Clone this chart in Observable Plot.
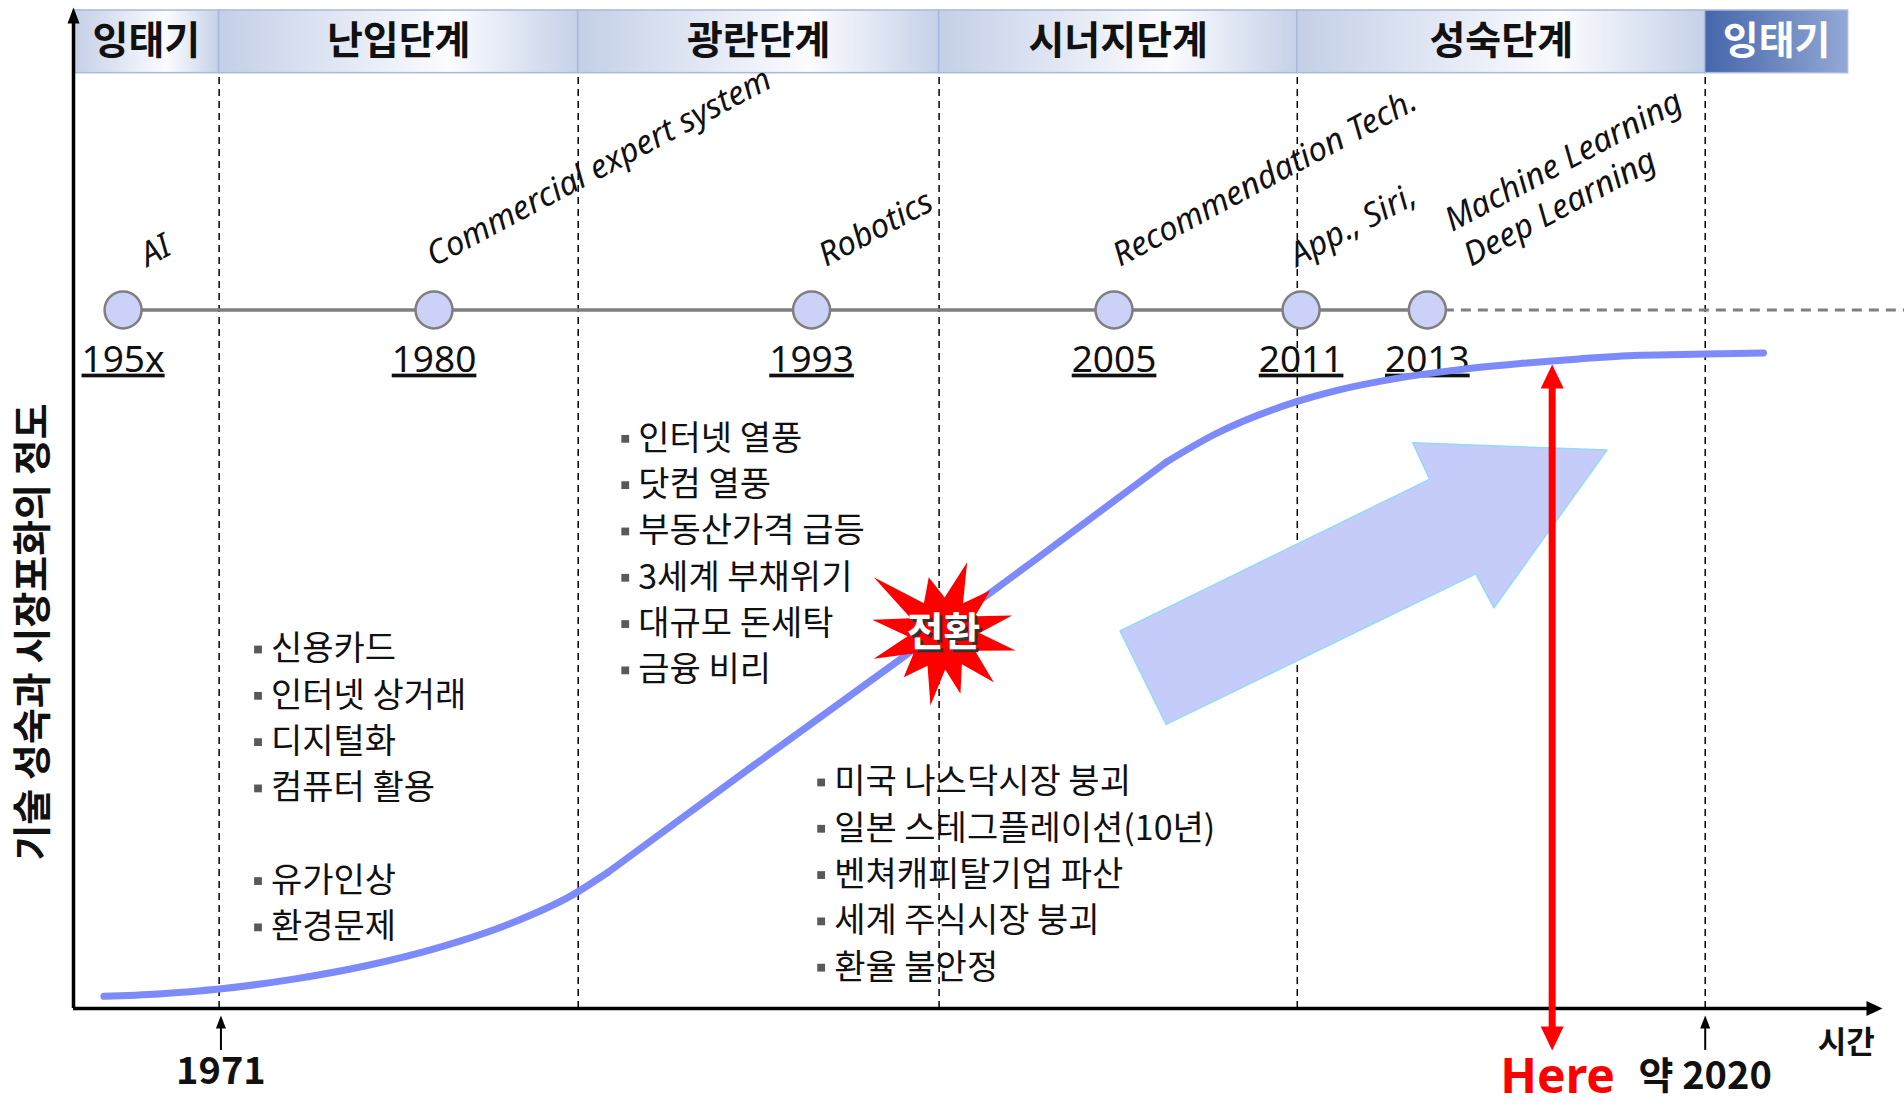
<!DOCTYPE html>
<html><head><meta charset="utf-8">
<script src="https://cdn.jsdelivr.net/npm/d3@7"></script>
<script src="https://cdn.jsdelivr.net/npm/@observablehq/plot@0.6"></script>
<style>html,body{margin:0;padding:0;background:#fff;overflow:hidden}</style>
</head><body><div id="chart"></div>
<script>
// ---------------- data (time axis 0–100, maturity axis 0–100) ----------------
const stageNames = ["잉태기", "난입단계", "광란단계", "시너지단계", "성숙단계", "잉태기"];
const stageStart = [0, 8.05, 27.9, 47.85, 67.65, 90.2];
const stageEnd   = [8.05, 27.9, 47.85, 67.65, 90.2, 98.1];

const milestoneYears = ["195x", "1980", "1993", "2005", "2011", "2013"];
const milestoneTime  = [2.74, 19.93, 40.8, 57.52, 67.86, 74.84];
const milestoneTech  = ["AI", "Commercial expert system", "Robotics", "Recommendation Tech.", "App., Siri,", "Machine Learning\nDeep Learning"];
const techStart      = [4.1, 19.93, 41.6, 57.85, 67.65, 77.25];

// maturity curve: lower bend, straight take-off, upper bend
const curveTime  = [1.68, 4.70, 8.05, 12.08, 16.11, 20.13, 24.16, 27.52, 29.53, 37.58, 45.64, 53.02, 60.40, 63.09, 67.65, 69.80, 73.15, 76.51, 79.87, 83.22, 86.58, 90.20, 93.42];
const curveLevel = [1.22, 1.46, 1.95, 2.92, 4.26, 6.08, 8.52, 11.31, 13.63, 24.33, 34.91, 44.77, 54.74, 57.54, 60.83, 61.92, 63.14, 63.99, 64.60, 65.09, 65.45, 65.57, 65.69];
const curvePhase = ["low","low","low","low","low","low","low","low","low","mid","mid","mid","high","high","high","high","high","high","high","high","high","high","high"];

const trendTime  = [57.85, 60.40, 77.52, 78.52, 84.77, 74.03, 74.97];
const trendLevel = [37.83, 28.47, 43.55, 40.15, 55.96, 56.69, 53.04];

const events1 = ["신용카드", "인터넷 상거래", "디지털화", "컴퓨터 활용", "", "유가인상", "환경문제"];
const events2 = ["인터넷 열풍", "닷컴 열풍", "부동산가격 급등", "3세계 부채위기", "대규모 돈세탁", "금융 비리"];
const events3 = ["미국 나스닥시장 붕괴", "일본 스테그플레이션(10년)", "벤쳐캐피탈기업 파산", "세계 주식시장 붕괴", "환율 불안정"];

const yLabel = "기술 성숙과 시장포화의 정도";
const xLabel = "시간";
const markerLabels = ["1971", "약 2020"];
const markerTime   = [8.15, 90.2];
const nowLabel = "Here";
const nowTime  = 81.74;
const nowLevel = 64.53;
const turnLabel = "전환";
const turnTime  = 48.09;
const turnLevel = 37.58;

// ---------------- layout ----------------
const TIMELINE = 70.0, HEAD_BOTTOM = 93.72, HEAD_TOP = 100;
const listAnchors = [[10.2, 35.97], [30.5, 57.08], [41.33, 22.65]];
const LIST_STEP = 4.64;

const stages = stageNames.map((name, i) => ({name, x1: stageStart[i], x2: stageEnd[i], i}));
const milestones = milestoneYears.map((year, i) => ({year, t: milestoneTime[i], tech: milestoneTech[i], ts: techStart[i]}));
const curve = curveTime.map((t, i) => ({t, v: curveLevel[i], p: curvePhase[i]}));
const seg = (phase, prev) => curve.filter((d, i) => d.p === phase || (prev && curve[i + 1] && curve[i + 1].p === phase));
const trend = trendTime.map((t, i) => ({t, v: trendLevel[i]}));
const events = [];
[events1, events2, events3].forEach((list, g) => list.forEach((text, k) => {
  if (text) events.push({text, t: listAnchors[g][0], v: listAnchors[g][1] - k * LIST_STEP});
}));

function head(w, h, dir) {
  return {draw(ctx) {
    let p;
    if (dir === "up") p = [[0, 0], [w / 2, h], [-w / 2, h]];
    else if (dir === "down") p = [[0, 0], [w / 2, -h], [-w / 2, -h]];
    else p = [[0, 0], [-h, w / 2], [-h, -w / 2]];
    ctx.moveTo(p[0][0], p[0][1]); ctx.lineTo(p[1][0], p[1][1]); ctx.lineTo(p[2][0], p[2][1]); ctx.closePath();
  }};
}
const starTips = [[23.7,-71.3],[46.7,-43],[68.7,-18],[72,17],[50.3,48.7],[17,60.3],[-13,72],[-39.7,43.7],[-69.7,25.3],[-71.3,-13.7],[-69.7,-56.3],[-14.7,-56.3]];
const star = {draw(ctx) {
  const n = starTips.length;
  starTips.forEach((p, i) => {
    const q = starTips[(i + 1) % n];
    const a1 = Math.atan2(p[1], p[0]); let a2 = Math.atan2(q[1], q[0]);
    if (a2 < a1) a2 += 2 * Math.PI;
    const am = (a1 + a2) / 2, ri = 36;
    if (i === 0) ctx.moveTo(p[0], p[1]); else ctx.lineTo(p[0], p[1]);
    ctx.lineTo(ri * Math.cos(am), ri * Math.sin(am));
  });
  ctx.closePath();
}};

const KR = "'Noto Sans CJK KR', 'Noto Sans', sans-serif";
const LAT = "'Noto Sans', 'Open Sans', sans-serif";
const CURVE = {x: "t", y: "v", stroke: "#7d8bfa", strokeWidth: 7, strokeLinecap: "round", strokeLinejoin: "round"};

const svg = Plot.plot({
  width: 1904, height: 1108, margin: 0,
  x: {domain: [0, 100], range: [73, 1882], axis: null},
  y: {domain: [0, 100], range: [1008, 10], axis: null},
  style: {fontFamily: KR, background: "#fff", color: "#000"},
  marks: [
    // header
    Plot.rect(stages.filter(d => d.i < 5), {x1: "x1", x2: "x2", y1: HEAD_BOTTOM, y2: HEAD_TOP, fill: "url(#hdrLight)", stroke: "#a7b9df", strokeWidth: 1.5}),
    Plot.rect(stages.filter(d => d.i === 5), {x1: "x1", x2: "x2", y1: HEAD_BOTTOM, y2: HEAD_TOP, fill: "url(#hdrDark)", stroke: "#a7b9df", strokeWidth: 1.5}),
    Plot.text(stages.filter(d => d.i < 5), {x: d => (d.x1 + d.x2) / 2, y: (HEAD_BOTTOM + HEAD_TOP) / 2, text: "name", fontSize: 39, fontWeight: "bold", fill: "#111"}),
    Plot.text(stages.filter(d => d.i === 5), {x: d => (d.x1 + d.x2) / 2, y: (HEAD_BOTTOM + HEAD_TOP) / 2, text: "name", fontSize: 39, fontWeight: "bold", fill: "#fff"}),
    // stage boundaries
    Plot.ruleX(stageStart.slice(1), {y1: 0, y2: HEAD_BOTTOM, stroke: "#000", strokeWidth: 1.5, strokeDasharray: "7,5"}),
    // timeline
    Plot.ruleY([TIMELINE], {x1: milestoneTime[0], x2: milestoneTime[milestoneTime.length - 1], stroke: "#7f7f7f", strokeWidth: 3.5}),
    Plot.ruleY([TIMELINE], {x1: milestoneTime[milestoneTime.length - 1], x2: 101.5, stroke: "#7f7f7f", strokeWidth: 3, strokeDasharray: "10,7"}),
    Plot.dot(milestones, {x: "t", y: TIMELINE, r: 18.5, fill: "#ccd1f8", stroke: "#7f7f7f", strokeWidth: 2.5}),
    Plot.text(milestones, {x: "t", y: 65.0, text: "year", fontSize: 37, fontFamily: LAT, fill: "#111"}),
    Plot.text(milestones, {x: "ts", y: 74.3, text: "tech", rotate: -28, textAnchor: "start", lineAnchor: "bottom", lineHeight: 1.2, fontSize: 33, fontStyle: "italic", fontFamily: LAT, fill: "#111"}),
    // event lists
    Plot.dot(events, {x: "t", y: "v", symbol: "square", r: 4.4, fill: "#595959", stroke: null}),
    Plot.text(events, {x: "t", y: "v", text: "text", dx: 13, textAnchor: "start", fontSize: 34, fill: "#111"}),
    // maturity curve
    Plot.line(seg("low", false), {...CURVE, curve: "monotone-x"}),
    Plot.line(seg("mid", true).concat(curve.filter(d => d.p === "high").slice(0, 1)), {...CURVE, curve: "linear"}),
    Plot.line(seg("high", false), {...CURVE, curve: "monotone-x"}),
    // trend arrow
    Plot.line(trend, {x: "t", y: "v", curve: "linear-closed", fill: "#c6ccf9", stroke: "#94daf6", strokeWidth: 1.5}),
    // turning point
    Plot.dot([turnLabel], {x: turnTime, y: turnLevel, symbol: star, fill: "#ff0000", stroke: null}),
    Plot.text([turnLabel], {x: turnTime, y: turnLevel, text: d => d, dx: 2.5, dy: 2.5, fontSize: 40, fontWeight: "bold", fill: "#333"}),
    Plot.text([turnLabel], {x: turnTime, y: turnLevel, text: d => d, fontSize: 40, fontWeight: "bold", fill: "#fff"}),
    // axes
    Plot.ruleX([0], {y1: 0, y2: 99.6, stroke: "#000", strokeWidth: 3.5}),
    Plot.dot([0], {x: 0, y: 100.3, symbol: head(12, 16, "up"), fill: "#000", stroke: null}),
    Plot.ruleY([0], {x1: 0, x2: 99.6, stroke: "#000", strokeWidth: 3.5}),
    Plot.dot([0], {x: 100, y: 0, symbol: head(15, 16, "right"), fill: "#000", stroke: null}),
    // red "here" arrow
    Plot.ruleX([nowTime], {y1: -4.2 + 2.0, y2: nowLevel - 2.0, stroke: "#ff0000", strokeWidth: 7}),
    Plot.dot([nowTime], {x: nowTime, y: nowLevel, symbol: head(23, 24, "up"), fill: "#ff0000", stroke: null}),
    Plot.dot([nowTime], {x: nowTime, y: -4.2, symbol: head(23, 24, "down"), fill: "#ff0000", stroke: null}),
    Plot.text([nowLabel], {x: nowTime + 0.3, y: -8.42, text: d => d, lineAnchor: "bottom", fontSize: 48, fontWeight: "bold", fill: "#ff0000", fontFamily: LAT}),
    // 1971 / 2020 markers
    Plot.ruleX(markerTime, {y1: -4.2, y2: -1.5, stroke: "#000", strokeWidth: 2}),
    Plot.dot(markerTime, {x: d => d, y: -0.7, symbol: head(10, 13, "up"), fill: "#000", stroke: null}),
    Plot.text(markerLabels, {x: (d, i) => markerTime[i], y: (d, i) => i === 0 ? -6.38 : -6.88, text: d => d, fontSize: 38, fontWeight: "bold", fill: "#111"}),
    Plot.text([xLabel], {x: 98.0, y: -3.46, text: d => d, fontSize: 31, fontWeight: "bold", fill: "#111"}),
    Plot.text([yLabel], {x: -2.22, y: 37.73, text: d => d, rotate: -90, fontSize: 39, fontWeight: "bold", fill: "#111"})
  ]
});

const s = d3.select(svg);
const defs = s.insert("defs", ":first-child");
const g1 = defs.append("linearGradient").attr("id", "hdrLight").attr("x1", 0).attr("x2", 1).attr("y1", 0).attr("y2", 0);
g1.append("stop").attr("offset", "0").attr("stop-color", "#c4cfe7");
g1.append("stop").attr("offset", "0.64").attr("stop-color", "#fbfcfe");
g1.append("stop").attr("offset", "1").attr("stop-color", "#c6d1e8");
const g2 = defs.append("linearGradient").attr("id", "hdrDark").attr("x1", 0).attr("x2", 1).attr("y1", 0).attr("y2", 0);
g2.append("stop").attr("offset", "0").attr("stop-color", "#4566ab");
g2.append("stop").attr("offset", "1").attr("stop-color", "#93a8d4");
s.selectAll("text").filter(function () { return milestoneYears.includes(this.textContent); })
  .style("text-decoration", "underline");
document.getElementById("chart").appendChild(svg);
</script>
</body></html>
